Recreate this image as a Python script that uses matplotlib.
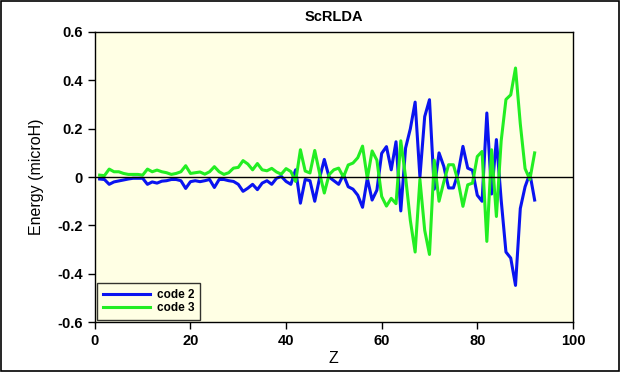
import numpy as np
import matplotlib
matplotlib.use('Agg')
import matplotlib.pyplot as plt
from matplotlib.patches import Rectangle

plt.rcParams['font.family'] = ['Liberation Sans', 'DejaVu Sans']

# Данные
z = np.arange(1, 93)
code2 = [-0.008, -0.010, -0.030, -0.020, -0.016, -0.012, -0.008, -0.005, -0.005, -0.005,
         -0.030, -0.020, -0.025, -0.017, -0.015, -0.010, -0.010, -0.015, -0.047, -0.019,
         -0.015, -0.019, -0.015, -0.010, -0.043, -0.010, -0.010, -0.015, -0.018, -0.030,
         -0.059, -0.046, -0.030, -0.052, -0.025, -0.015, -0.030, -0.005, 0.003, -0.018,
         -0.030, 0.030, -0.108, -0.010, -0.015, -0.100, -0.005, 0.073, 0.000, -0.015,
         -0.030, 0.010, -0.040, -0.050, -0.075, -0.125, -0.005, -0.095, -0.054, 0.098,
         0.126, 0.030, 0.146, -0.140, 0.120, 0.200, 0.310, 0.000, 0.250, 0.320,
         -0.050, 0.100, 0.044, -0.045, -0.045, 0.017, 0.127, 0.037, 0.028, -0.075,
         -0.100, 0.265, -0.070, 0.155, -0.095, -0.310, -0.335, -0.448, -0.130, -0.040,
         0.015, -0.095]
code3 = [0.008, 0.006, 0.033, 0.022, 0.022, 0.015, 0.011, 0.011, 0.011, 0.008,
         0.033, 0.022, 0.029, 0.022, 0.018, 0.011, 0.015, 0.022, 0.047, 0.015,
         0.018, 0.021, 0.012, 0.022, 0.043, 0.022, 0.011, 0.018, 0.037, 0.040,
         0.068, 0.054, 0.030, 0.056, 0.030, 0.026, 0.036, 0.021, 0.012, 0.035,
         0.023, -0.018, 0.113, 0.025, 0.017, 0.110, 0.017, -0.066, 0.010, 0.030,
         0.037, 0.000, 0.050, 0.058, 0.080, 0.128, -0.006, 0.108, 0.070, -0.080,
         -0.120, -0.088, -0.110, 0.150, 0.000, -0.180, -0.310, -0.010, -0.220, -0.320,
         0.070, -0.100, -0.020, 0.051, 0.051, -0.018, -0.121, -0.032, -0.025, 0.085,
         0.106, -0.266, 0.113, -0.163, 0.150, 0.321, 0.340, 0.451, 0.220, 0.035,
         -0.010, 0.100]

fig = plt.figure(figsize=(6.2, 3.72), dpi=100)
fig.patch.set_facecolor('white')
fig.patches.append(Rectangle((0.0015, 0.0025), 0.997, 0.995, transform=fig.transFigure,
                             fill=False, edgecolor='black', linewidth=1.2))

ax = fig.add_axes([0.153, 0.134, 0.771, 0.780])
ax.set_facecolor('#FFFFE4')

ax.plot(z, code2, color='#0A14F0', lw=2.2, label='code 2')
ax.plot(z, code3, color='#22EE22', lw=2.2, label='code 3')
ax.axhline(0, color='black', lw=1)

ax.set_xlim(0, 100)
ax.set_ylim(-0.6, 0.6)
ax.set_xticks(np.arange(0, 101, 20))
ax.set_yticks(np.arange(-0.6, 0.61, 0.2))
ax.set_yticklabels(['-0.6', '-0.4', '-0.2', '0', '0.2', '0.4', '0.6'])
ax.tick_params(direction='out', length=5, width=1, labelsize=10.5)
for lab in ax.get_xticklabels() + ax.get_yticklabels():
    lab.set_fontweight('bold')
for s in ax.spines.values():
    s.set_color('black')
    s.set_linewidth(1)

ax.set_title('ScRLDA', fontsize=10.5, fontweight='bold', pad=8)
ax.set_xlabel('Z', fontsize=11.5, labelpad=2)
ax.set_ylabel('Energy (microH)', fontsize=11.5, labelpad=10)

leg = ax.legend(loc='lower left', fontsize=8.5, frameon=True, fancybox=False,
                borderaxespad=0.2, handlelength=4, labelspacing=0.15,
                borderpad=0.45, handletextpad=0.6)
leg.get_frame().set_edgecolor('black')
leg.get_frame().set_facecolor('#FFFFE4')
leg.get_frame().set_linewidth(1)
for t in leg.get_texts():
    t.set_fontweight('bold')

fig.savefig('out.png', dpi=100)
